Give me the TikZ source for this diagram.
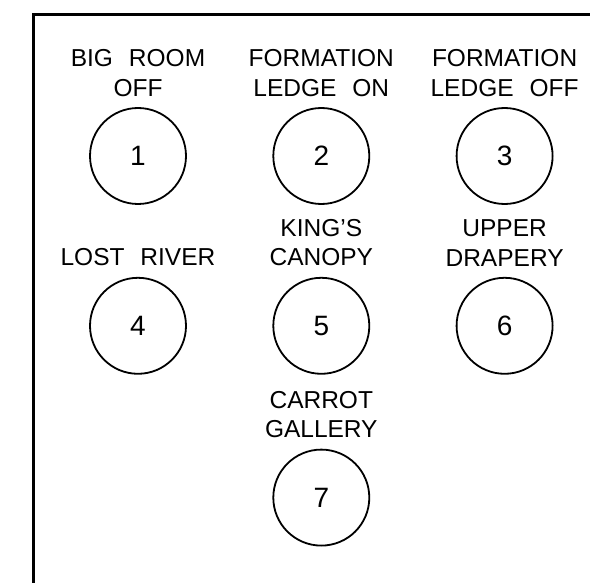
\documentclass[tikz,border=0pt]{standalone}
\usepackage{fontspec}
\setmainfont{Liberation Sans}
\usetikzlibrary{positioning}

\newcommand{\wsp}{\hspace{0.65em}}

\begin{document}
\begin{tikzpicture}[
  x=1pt, y=-1pt,
  btn/.style={draw, circle, line width=1.8pt, minimum size=96pt, inner sep=0pt, font=\fontsize{28}{30}\selectfont},
  lbl/.style={align=center, inner sep=0pt, font=\fontsize{24.5}{29.6}\selectfont},
  frame/.style={line width=3pt}
]
\useasboundingbox (0,0) rectangle (590,583);
\draw[frame] (33.5,600) |- (600,14.5);

\node[btn] (b1) at (138,156) {1};
\node[btn, right=85.5pt of b1] (b2) {2};
\node[btn, right=85.5pt of b2] (b3) {3};
\node[btn, below=72pt of b1] (b4) {4};
\node[btn, below=72pt of b2] (b5) {5};
\node[btn, below=72pt of b3] (b6) {6};
\node[btn, below=74pt of b5] (b7) {7};

\node[lbl, above=10.5pt of b1] (l1) {BIG\wsp ROOM\\OFF};
\node[lbl, above=10.5pt of b2] (l2) {FORMATION\\LEDGE\wsp ON};
\node[lbl, above=10.5pt of b3] (l3) {FORMATION\\LEDGE\wsp OFF};
\node[lbl, above=10.5pt of b4] (l4) {LOST\wsp RIVER};
\node[lbl, above=10.5pt of b5] (l5) {KING’S\\CANOPY};
\node[lbl, above=10.5pt of b6] (l6) {UPPER\\DRAPERY};
\node[lbl, above=10.5pt of b7] (l7) {CARROT\\GALLERY};
\end{tikzpicture}
\end{document}
